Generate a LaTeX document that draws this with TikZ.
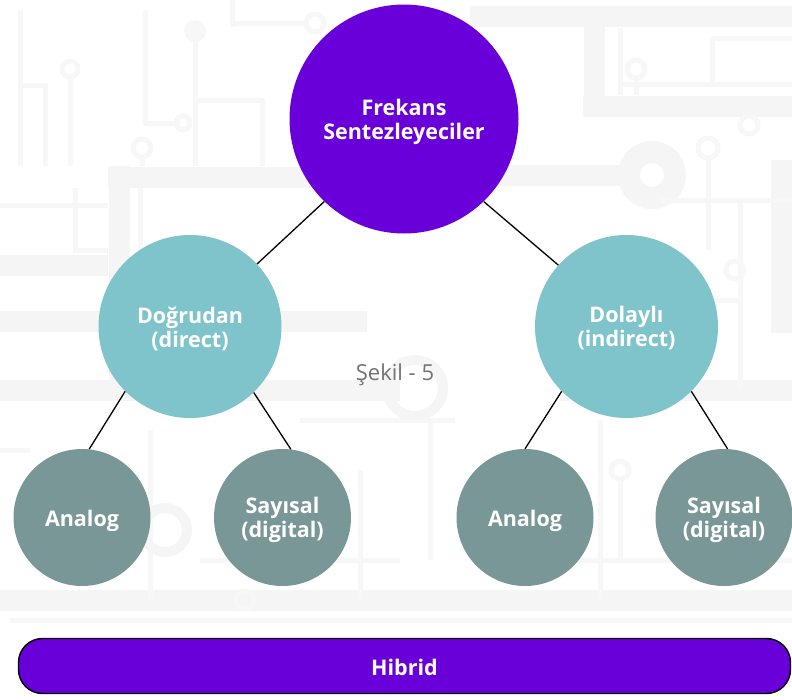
\documentclass[tikz,border=0pt]{standalone}
\usepackage{fontspec}
\setmainfont{Open Sans}
\definecolor{hubpurple}{HTML}{6A00D9}
\definecolor{midteal}{HTML}{80C4CB}
\definecolor{leafslate}{HTML}{799797}
\definecolor{circuit}{HTML}{F5F5F5}
\definecolor{circuitthin}{HTML}{F7F7F7}
\definecolor{captiongray}{HTML}{737373}
\begin{document}
\begin{tikzpicture}[x=1pt,y=-1pt,
  labeltext/.style={text=white, align=center, inner sep=0pt,
    font=\bfseries\fontsize{21.5}{24}\selectfont},
  hub/.style={circle, fill=hubpurple, minimum size=229pt, inner sep=0pt},
  midnode/.style={circle, fill=midteal, minimum size=183pt, inner sep=0pt},
  leaf/.style={circle, fill=leafslate, minimum size=137pt, inner sep=0pt},
  hybridbar/.style={rectangle, rounded corners=24pt, fill=hubpurple, draw=black,
    line width=1.4pt, minimum width=772pt, minimum height=55pt, inner sep=0pt},
  link/.style={draw=black, line width=1.3pt},
  band/.style={draw=circuit, line width=21pt},
  trace/.style={draw=circuitthin, line width=5pt},
  pad/.style={draw=circuitthin, line width=5pt}]
\useasboundingbox (0,0) rectangle (792,699);
\fill[white] (0,0) rectangle (792,699);

% faint circuit-board backdrop
\begin{scope}
  \draw[band] (0,321) -- (367,321);
  \draw[band] (108,177) -- (420,177);
  \draw[band] (119,166) -- (119,380);
  \draw[band] (0,390) -- (400,390);
  \draw[band] (0,265) -- (108,265);
  \draw[band] (470,16) -- (792,16);
  \draw[band] (583,106) -- (792,106);
  \draw[band] (594,16) -- (594,106);
  \draw[band] (480,175) -- (630,175);
  \draw[circuit, line width=22pt] (652,175) circle (23);
  \draw[band] (781,160) -- (781,333);
  \draw[band] (560,390) -- (792,390);
  \draw[band] (0,600) -- (792,600);
  \draw[trace] (70,77) -- (70,166);
  \draw[pad] (70,69) circle (8);
  \draw[trace] (142,157) -- (142,166);
  \draw[pad] (142,148) circle (9);
  \fill[circuitthin] (195,31) circle (11);
  \draw[trace] (195,31) -- (195,166);
  \draw[trace] (230,23) -- (306,23);
  \draw[pad] (315,23) circle (9);
  \draw[trace] (145,10) -- (145,123) -- (180,123);
  \draw[pad] (183,123) circle (7);
  \draw[trace] (20,10) -- (20,166);
  \draw[trace] (20,85) -- (45,85) -- (45,166);
  \draw[trace] (232,0) -- (232,27);
  \draw[trace] (198,100) -- (262,100) -- (262,166);
  \draw[trace] (75,188) -- (75,250) -- (108,250);
  \draw[trace] (0,205) -- (108,205);
  \draw[trace] (140,188) -- (140,300);
  \draw[pad] (636,69) circle (9);
  \draw[trace] (636,78) -- (636,95);
  \draw[pad] (708,148) circle (10);
  \draw[trace] (708,158) -- (708,250);
  \draw[pad] (749,125) circle (9);
  \draw[trace] (620,28) -- (620,95);
  \draw[trace] (712,38) -- (792,38);
  \draw[trace] (712,38) -- (712,84);
  \draw[trace] (620,84) -- (792,84);
  \draw[trace] (660,200) -- (792,200);
  \draw[trace] (740,200) -- (740,390);
  \draw[pad] (735,270) circle (9);
  \draw[trace] (670,300) -- (740,300);
  \draw[circuit, line width=10pt] (415,388) circle (28);
  \draw[trace] (430,420) -- (430,560);
  \draw[trace] (300,420) -- (455,420);
  \draw[trace] (150,430) -- (150,600);
  \draw[circuit, line width=10pt] (165,530) circle (22);
  \draw[trace] (0,450) -- (30,450);
  \draw[trace] (600,420) -- (600,600);
  \draw[pad] (620,470) circle (9);
  \draw[trace] (620,480) -- (620,560);
  \draw[trace] (360,470) -- (360,600);
  \draw[trace] (200,560) -- (400,560);
  \draw[pad] (245,600) circle (9);
  \draw[trace] (560,560) -- (792,560);
  \draw[trace] (10,620) -- (792,620);
\end{scope}

% tree
\node[hub] (root) at (404,119) {};
\node[midnode] (direct) at (190,326.5) {};
\node[midnode] (indirect) at (626.5,326.5) {};
\node[leaf] (danalog) at (82,517.5) {};
\node[leaf] (ddigital) at (282.5,517.5) {};
\node[leaf] (ianalog) at (525,517.5) {};
\node[leaf] (idigital) at (724,517.5) {};

\node[labeltext] (rootlbl) at ([yshift=-3pt]root.center) {Frekans\\Sentezleyeciler};
\node[labeltext] (directlbl) at ([yshift=-2pt]direct.center) {Doğrudan\\(direct)};
\node[labeltext] (indirectlbl) at ([yshift=-2pt]indirect.center) {Dolaylı\\(indirect)};
\node[labeltext] (danaloglbl) at ([yshift=-3pt]danalog.center) {Analog};
\node[labeltext] (ddigitallbl) at ([yshift=-2pt]ddigital.center) {Sayısal\\(digital)};
\node[labeltext] (ianaloglbl) at ([yshift=-3pt]ianalog.center) {Analog};
\node[labeltext] (idigitallbl) at ([yshift=-2pt]idigital.center) {Sayısal\\(digital)};

\draw[link] (root.226.7) -- (direct.43.6);
\draw[link] (root.314.9) -- (indirect.138.3);
\draw[link] (direct.225.3) -- (danalog.84);
\draw[link] (direct.314.8) -- (ddigital.83);
\draw[link] (indirect.225) -- (ianalog.90);
\draw[link] (indirect.315) -- (idigital.87);

\node[text=captiongray, font=\fontsize{22}{26}\selectfont] (caption) at (395,375) {Şekil - 5};

\node[hybridbar] (hybrid) at (404.5,666) {};
\node[labeltext] (hybridlbl) at ([yshift=-1pt]hybrid.center) {Hibrid};
\end{tikzpicture}
\end{document}
